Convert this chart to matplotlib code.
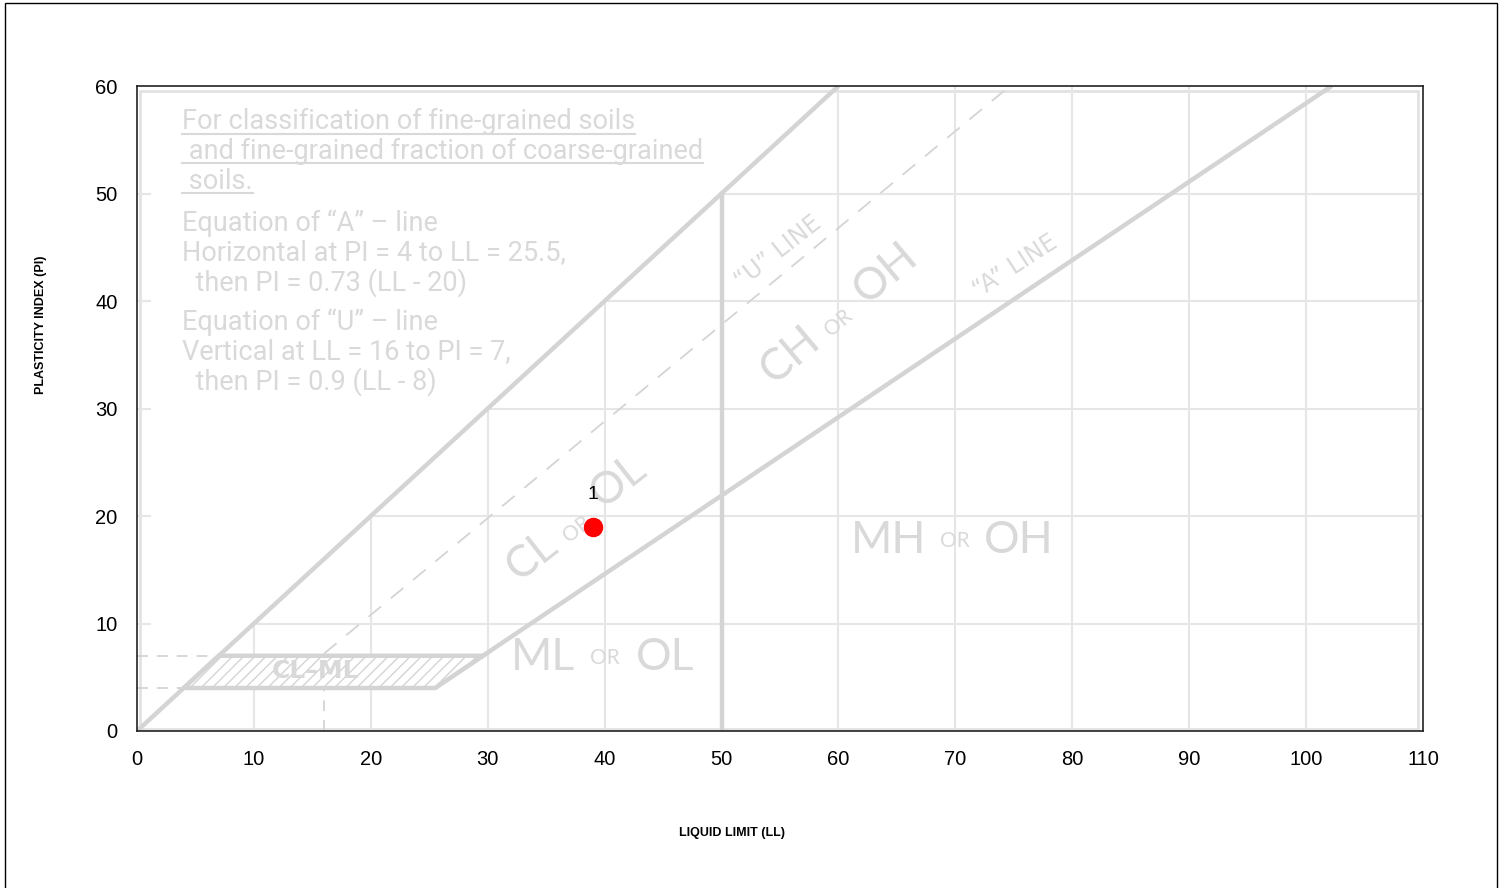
import numpy as np
import matplotlib.pyplot as plt
from matplotlib.patches import Polygon, Rectangle

# --- sample data ---
sample_ids = ['1']
liquid_limit = [39]
plasticity_index = [19]

x_ticks = [0, 10, 20, 30, 40, 50, 60, 70, 80, 90, 100, 110]
y_ticks = [0, 10, 20, 30, 40, 50, 60]

# --- chart definitions (Casagrande plasticity chart) ---
a_line_ll = [25.5, 102.2]      # PI = 0.73 (LL - 20)
u_line_ll = [16, 74.67]        # PI = 0.9 (LL - 8)
cl_ml_pi = [4, 7]
ll_split = 50

note_lines = [
    ('For classification of fine-grained soils', 3.85, 56.74, True),
    (' and fine-grained fraction of coarse-grained', 3.85, 53.95, True),
    (' soils.', 3.85, 51.16, True),
    ('Equation of \u201cA\u201d \u2013 line', 3.85, 47.26, False),
    ('Horizontal at PI = 4 to LL = 25.5,', 3.85, 44.47, False),
    ('  then PI = 0.73 (LL - 20)', 3.85, 41.67, False),
    ('Equation of \u201cU\u201d \u2013 line', 3.85, 38.05, False),
    ('Vertical at LL = 16 to PI = 7,', 3.85, 35.26, False),
    ('  then PI = 0.9 (LL - 8)', 3.85, 32.47, False),
]

line_grey = '#d4d4d4'
grid_grey = '#e6e6e6'
text_grey = '#d9d9d9'

fig = plt.figure(figsize=(15.07, 8.88), dpi=100)
ax = fig.add_axes([137 / 1507, 1 - 731 / 888, 1286 / 1507, 645 / 888])
ax.set_xlim(0, 110)
ax.set_ylim(0, 60)

# outer frame of the figure
fig.patches.append(Rectangle((5 / 1507, -0.01), 1492 / 1507, 1.0 - 3 / 888 + 0.01,
                             transform=fig.transFigure, fill=False,
                             edgecolor='black', lw=1.0))

# --- background chart drawing ---
ax.add_patch(Rectangle((0.002, 0.003), 0.994, 0.990, transform=ax.transAxes,
                       fill=False, edgecolor='#e2e2e2', lw=2, zorder=1))
for v in x_ticks[1:-1]:
    ax.plot([v, v], [0, min(v, 60)], color=grid_grey, lw=1.5, zorder=1)
for h in y_ticks[1:-1]:
    ax.plot([h, 110], [h, h], color=grid_grey, lw=1.5, zorder=1)
    ax.plot([0, 1.1], [h, h], color=grid_grey, lw=1.5, zorder=1)

ll = np.array(a_line_ll)
ax.plot(ll, 0.73 * (ll - 20), color=line_grey, lw=3.2, zorder=2, solid_capstyle='butt')
ll = np.array(u_line_ll)
ax.plot(ll, 0.9 * (ll - 8), color=line_grey, lw=1.3, ls=(0, (9, 7)), zorder=2)
ax.plot([0, 60], [0, 60], color=line_grey, lw=3.2, zorder=2, solid_capstyle='butt')
ax.plot([ll_split, ll_split], [0, 50], color=line_grey, lw=3.2, zorder=2)
ax.plot([0, cl_ml_pi[1]], [cl_ml_pi[1]] * 2, color=line_grey, lw=1.3, ls=(0, (6, 5)), zorder=2)
ax.plot([0, cl_ml_pi[0]], [cl_ml_pi[0]] * 2, color=line_grey, lw=1.3, ls=(0, (6, 5)), zorder=2)
ax.plot([u_line_ll[0]] * 2, [0, cl_ml_pi[1]], color=line_grey, lw=1.3, ls=(0, (6, 5)), zorder=2)

plt.rcParams['hatch.linewidth'] = 1.0
band = Polygon([(cl_ml_pi[0], cl_ml_pi[0]), (25.5, cl_ml_pi[0]),
                (20 + cl_ml_pi[1] / 0.73, cl_ml_pi[1]), (cl_ml_pi[1], cl_ml_pi[1])],
               closed=True, facecolor='white', edgecolor=line_grey, lw=3.2,
               hatch='///', zorder=2)
ax.add_patch(band)
ax.text(15.3, 5.6, 'CL\u2013ML', color=text_grey, fontsize=18, fontweight='bold',
        family='DejaVu Sans', ha='center', va='center', zorder=3)

# notes
note_texts = []
for txt, x, y, underline in note_lines:
    t = ax.text(x, y, txt, color=text_grey, fontsize=19.5, family='Roboto',
                ha='left', va='center', zorder=3)
    note_texts.append((t, underline))

# zone labels
big = dict(color=text_grey, family='Lato', ha='center', va='center', zorder=3)
ax.text(33.8, 16.3, 'CL', fontsize=32, rotation=38, **big)
ax.text(37.6, 18.8, 'OR', fontsize=15, rotation=38, **big)
ax.text(41.2, 23.2, 'OL', fontsize=32, rotation=38, **big)
ax.text(55.9, 35.0, 'CH', fontsize=32, rotation=40, **big)
ax.text(60.0, 38.0, 'OR', fontsize=15, rotation=40, **big)
ax.text(64.0, 42.6, 'OH', fontsize=32, rotation=40, **big)
ax.text(34.7, 6.8, 'ML', fontsize=32, **big)
ax.text(40.0, 6.8, 'OR', fontsize=15, **big)
ax.text(45.2, 6.8, 'OL', fontsize=32, **big)
ax.text(64.3, 17.7, 'MH', fontsize=32, **big)
ax.text(70.0, 17.7, 'OR', fontsize=15, **big)
ax.text(75.4, 17.7, 'OH', fontsize=32, **big)
ax.text(54.8, 44.6, '\u201cU\u201d LINE', fontsize=17, rotation=38, color=text_grey,
        family='DejaVu Sans', ha='center', va='center', zorder=3)
ax.text(75.1, 43.2, '\u201cA\u201d LINE', fontsize=17, rotation=33, color=text_grey,
        family='DejaVu Sans', ha='center', va='center', zorder=3)

# underline the heading lines
fig.canvas.draw()
renderer = fig.canvas.get_renderer()
inv = ax.transData.inverted()
for t, underline in note_texts:
    if not underline:
        continue
    bb = t.get_window_extent(renderer)
    (x0, y0), (x1, y1) = inv.transform([(bb.x0, bb.y0), (bb.x1, bb.y1)])
    ax.plot([x0, x1], [y0 + 0.1, y0 + 0.1], color=text_grey, lw=1.5, zorder=3)

# --- samples ---
ax.plot(liquid_limit, plasticity_index, 'o', color='red', markersize=13, zorder=5)
for sid, x, y in zip(sample_ids, liquid_limit, plasticity_index):
    ax.annotate(sid, (x, y), xytext=(0, 23), textcoords='offset points',
                ha='center', va='center', fontsize=14, family='Liberation Sans', zorder=5)

# --- axes ---
ax.set_xticks(x_ticks)
ax.set_yticks(y_ticks)
ax.tick_params(length=0, pad=14, labelsize=14.5)
for lab in ax.get_xticklabels() + ax.get_yticklabels():
    lab.set_family('Liberation Sans')
for s in ax.spines.values():
    s.set_linewidth(1.2)
    s.set_color('#222222')
    s.set_zorder(6)

fig.text(732 / 1507, 1 - 833 / 888, 'LIQUID LIMIT (LL)', ha='center', va='center',
         fontsize=9, fontweight='bold', family='Liberation Sans')
fig.text(41 / 1507, 1 - 325 / 888, 'PLASTICITY INDEX (PI)', ha='center', va='center',
         rotation=90, fontsize=9, fontweight='bold', family='Liberation Sans')

fig.savefig('out.png', dpi=100)
